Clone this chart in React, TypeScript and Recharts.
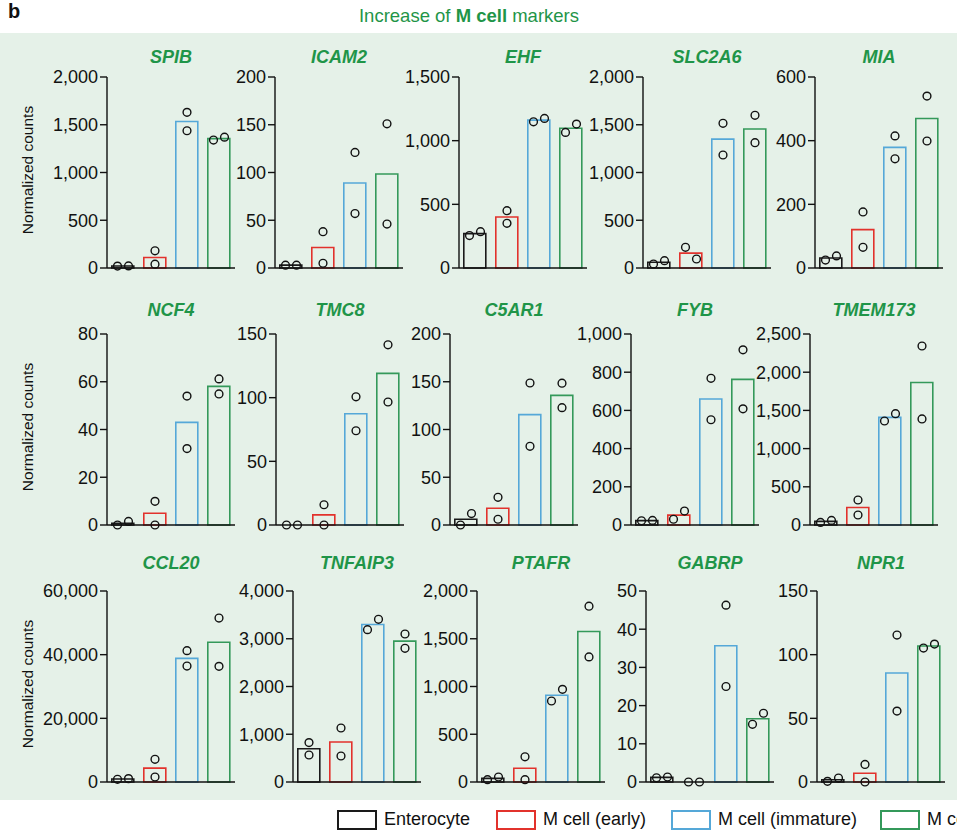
import React from "react";
import {Bar, Cell, ComposedChart, Scatter, XAxis, YAxis} from "recharts";

const groups = ["Enterocyte", "M cell (early)", "M cell (immature)", "M cell (mature)"];
const groupColors = ["#1a1a1a", "#e2322c", "#55a8d8", "#34995a"];

// replicate pairs per group, left dot first
const SPIB = [[20, 22], [180, 40], [1630, 1437], [1340, 1370]];
const ICAM2 = [[3, 3], [38, 5], [121, 57], [151, 46]];
const EHF = [[255, 285], [450, 351], [1148, 1175], [1065, 1130]];
const SLC2A6 = [[42, 77], [217, 94], [1515, 1183], [1599, 1312]];
const MIA = [[25, 38], [176, 65], [415, 343], [540, 399]];
const NCF4 = [[0, 1.5], [9.9, 0], [54, 32], [61.2, 54.9]];
const TMC8 = [[0, 0], [15.9, 0], [100.7, 74], [141.5, 96.6]];
const C5AR1 = [[0, 12], [29, 6], [148.7, 82.4], [148.5, 122.9]];
const FYB = [[22, 24], [30, 73], [768, 551], [917, 608]];
const TMEM173 = [[34, 60], [327, 131], [1361, 1457], [2343, 1388]];
const CCL20 = [[850, 1060], [7130, 1570], [41260, 36430], [51500, 36330]];
const TNFAIP3 = [[825, 565], [1131, 545], [3191, 3407], [3100, 2800]];
const PTAFR = [[24, 52], [264, 24], [848, 970], [1841, 1310]];
const GABRP = [[1.1, 1.3], [0, 0], [46.3, 25], [15.1, 18]];
const NPR1 = [[0.5, 3.1], [13.8, 0], [115.4, 55.7], [105.2, 108.3]];

const panels = [
    {gene: "SPIB", reps: SPIB, ticks: [0, 500, 1000, 1500, 2000]},
    {gene: "ICAM2", reps: ICAM2, ticks: [0, 50, 100, 150, 200]},
    {gene: "EHF", reps: EHF, ticks: [0, 500, 1000, 1500]},
    {gene: "SLC2A6", reps: SLC2A6, ticks: [0, 500, 1000, 1500, 2000]},
    {gene: "MIA", reps: MIA, ticks: [0, 200, 400, 600]},
    {gene: "NCF4", reps: NCF4, ticks: [0, 20, 40, 60, 80]},
    {gene: "TMC8", reps: TMC8, ticks: [0, 50, 100, 150]},
    {gene: "C5AR1", reps: C5AR1, ticks: [0, 50, 100, 150, 200]},
    {gene: "FYB", reps: FYB, ticks: [0, 200, 400, 600, 800, 1000]},
    {gene: "TMEM173", reps: TMEM173, ticks: [0, 500, 1000, 1500, 2000, 2500]},
    {gene: "CCL20", reps: CCL20, ticks: [0, 20000, 40000, 60000]},
    {gene: "TNFAIP3", reps: TNFAIP3, ticks: [0, 1000, 2000, 3000, 4000]},
    {gene: "PTAFR", reps: PTAFR, ticks: [0, 500, 1000, 1500, 2000]},
    {gene: "GABRP", reps: GABRP, ticks: [0, 10, 20, 30, 40, 50]},
    {gene: "NPR1", reps: NPR1, ticks: [0, 50, 100, 150]},
];

// layout: y-axis x position per panel, top of plot per row
const axisX = [
    [107, 275, 459, 643, 815],
    [107, 276, 450, 631, 810],
    [107, 293, 477, 646, 817],
];
const rowTop = [77, 334, 591];
const titleY = [58, 311, 564];

const PLOT_H = 191;
const PLOT_W = 128;
const AXIS_W = 70;
const FONT = "'Liberation Sans', Arial, sans-serif";
const GREEN = "#1f9548";

const fmt = (v: number) => v.toLocaleString("en-US");

function Dot(props: any) {
    const {cx, cy, payload, side} = props;
    const off = payload.spread ? side * 5.5 : 0;
    return <circle cx={cx + off} cy={cy} r={3.9} fill="none" stroke="#111" strokeWidth={1.4}/>;
}

function Panel({gene, reps, ticks, left, top}: any) {
    const max = ticks[ticks.length - 1];
    const data = groups.map((g, i) => {
        const [a, b] = reps[i];
        return {
            name: g,
            mean: (a + b) / 2,
            a,
            b,
            spread: (Math.abs(a - b) / max) * PLOT_H < 12,
        };
    });
    return (
        <div style={{position: "absolute", left: left - AXIS_W, top: top - 10}}>
            <ComposedChart
                width={AXIS_W + PLOT_W + 6}
                height={PLOT_H + 21}
                data={data}
                margin={{top: 10, right: 6, bottom: 10, left: 0}}
                barCategoryGap="15%"
            >
                <XAxis dataKey="name" tick={false} tickLine={false} height={1}
                       axisLine={{stroke: "#111", strokeWidth: 1.4}}/>
                <YAxis
                    width={AXIS_W}
                    domain={[0, max]}
                    ticks={ticks}
                    interval={0}
                    tickFormatter={fmt}
                    tickSize={7}
                    tickMargin={2}
                    axisLine={{stroke: "#111", strokeWidth: 1.4}}
                    tickLine={{stroke: "#111", strokeWidth: 1.4}}
                    tick={{fill: "#111", fontSize: 18, fontFamily: FONT}}
                />
                <Bar dataKey="mean" fill="none" strokeWidth={1.6} isAnimationActive={false}>
                    {data.map((d, i) => <Cell key={d.name} stroke={groupColors[i]}/>)}
                </Bar>
                <Scatter dataKey="a" isAnimationActive={false} shape={(p: any) => <Dot {...p} side={-1}/>}/>
                <Scatter dataKey="b" isAnimationActive={false} shape={(p: any) => <Dot {...p} side={1}/>}/>
            </ComposedChart>
        </div>
    );
}

export default function App() {
    return (
        <div style={{
            position: "absolute", left: 0, top: 0, width: 957, height: 836,
            overflow: "hidden", background: "#fff", fontFamily: FONT,
        }}>
            <div style={{position: "absolute", left: 8, top: 0, fontSize: 20, fontWeight: "bold", color: "#111"}}>b</div>
            <div style={{
                position: "absolute", left: 0, width: 938, top: 5, textAlign: "center",
                fontSize: 18.5, color: GREEN,
            }}>
                Increase of <b>M cell</b> markers
            </div>
            <div style={{position: "absolute", left: 0, top: 33, width: 957, height: 767, background: "#e5f1e8"}}/>
            {panels.map((p, i) => {
                const row = Math.floor(i / 5);
                const col = i % 5;
                const x = axisX[row][col];
                return (
                    <React.Fragment key={p.gene}>
                        <div style={{
                            position: "absolute", left: x, width: PLOT_W, top: titleY[row] - 11,
                            textAlign: "center", fontSize: 18, fontWeight: "bold", fontStyle: "italic", color: GREEN,
                        }}>{p.gene}</div>
                        <Panel {...p} left={x} top={rowTop[row]}/>
                    </React.Fragment>
                );
            })}
            {rowTop.map((t) => (
                <div key={t} style={{
                    position: "absolute", left: 28 - 80, top: t + 84, width: 160, textAlign: "center",
                    transform: "rotate(-90deg)", fontSize: 15.5, color: "#111",
                }}>Normalized counts</div>
            ))}
            {groups.map((g, i) => {
                const lx = [337, 496, 671, 880][i];
                return (
                    <div key={g} style={{position: "absolute", left: lx, top: 809, display: "flex", alignItems: "center"}}>
                        <div style={{width: 36, height: 16, border: `2px solid ${groupColors[i]}`}}/>
                        <span style={{marginLeft: 7, fontSize: 18, color: "#111", whiteSpace: "nowrap"}}>{g}</span>
                    </div>
                );
            })}
        </div>
    );
}
